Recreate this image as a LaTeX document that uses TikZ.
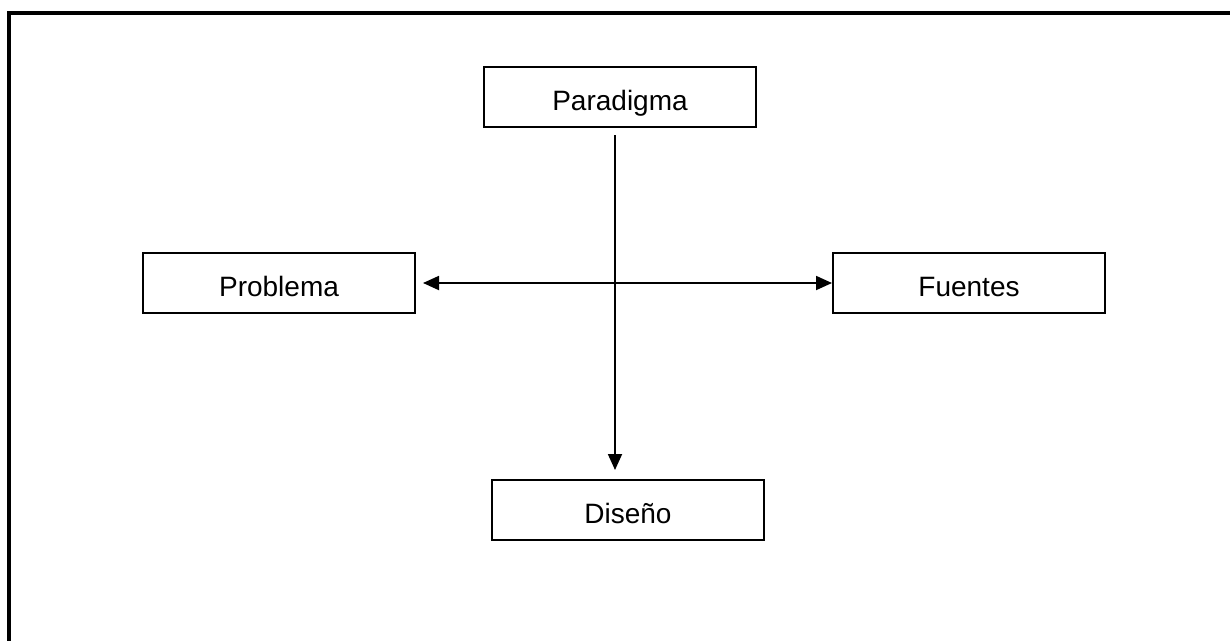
\documentclass[tikz,border=0pt]{standalone}
\usepackage{fontspec}
\setmainfont{Liberation Sans}
\usetikzlibrary{arrows.meta}
\tikzset{
  box/.style={draw=black, line width=1.5pt, minimum width=204pt, minimum height=45pt, inner sep=0pt, text height=19.5pt, text depth=0pt, font=\fontsize{21}{25}\selectfont},
  conn/.style={line width=1.4pt, -{Triangle[length=12pt,width=10.5pt]}},
  frame/.style={line width=2.4pt}
}
\begin{document}
\begin{tikzpicture}[x=0.75pt,y=-0.75pt]
\useasboundingbox (0,0) rectangle (1230,640);
\draw[frame] (9,645) -- (9,13) -- (1235,13);
\node[box] (par) at (620,97) {Paradigma};
\node[box] (pro) at (279,283) {Problema};
\node[box] (fue) at (969,283) {Fuentes};
\node[box] (dis) at (628,510) {Diseño};
\coordinate (vtop) at (615,135);
\coordinate (vbot) at (615,470);
\coordinate (hl) at (423,283);
\draw[conn] (vtop) -- (vbot);
\draw[conn, {Triangle[length=12pt,width=10.5pt]}-{Triangle[length=12pt,width=10.5pt]}] (hl) -- (fue.west);
\end{tikzpicture}
\end{document}
